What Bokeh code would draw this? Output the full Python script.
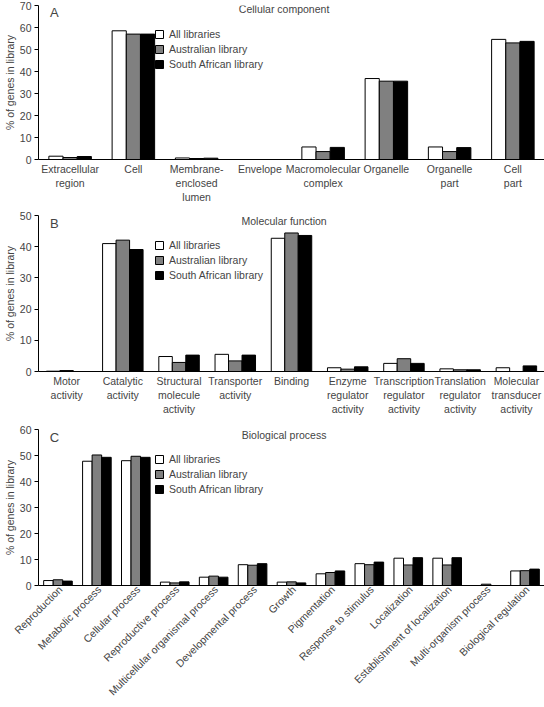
import math
from bokeh.plotting import figure
from bokeh.layouts import column
from bokeh.models import (Range1d, FixedTicker, SingleIntervalTicker, Legend,
                          LegendItem, Label, ColumnDataSource)
from bokeh.transform import dodge
from bokeh.embed import file_html
from bokeh.resources import INLINE

FONT = "Liberation Sans"
FS = "10.5px"

series_names = ["All libraries", "Australian library", "South African library"]
series_colors = ["#ffffff", "#808080", "#000000"]

# Panel A: Cellular component
cc_terms = ["Extracellular\nregion", "Cell", "Membrane-\nenclosed\nlumen", "Envelope",
            "Macromolecular\ncomplex", "Organelle", "Organelle\npart", "Cell\npart"]
cc_all = [1.5, 58.5, 0.7, 0.0, 5.7, 36.8, 5.7, 54.6]
cc_aus = [0.9, 57.0, 0.45, 0.0, 3.6, 35.6, 3.6, 53.0]
cc_sa = [1.35, 57.0, 0.6, 0.0, 5.5, 35.6, 5.4, 53.7]

# Panel B: Molecular function
mf_terms = ["Motor\nactivity", "Catalytic\nactivity", "Structural\nmolecule\nactivity",
            "Transporter\nactivity", "Binding", "Enzyme\nregulator\nactivity",
            "Transcription\nregulator\nactivity", "Translation\nregulator\nactivity",
            "Molecular\ntransducer\nactivity"]
mf_all = [0.1, 41.0, 4.8, 5.5, 42.7, 1.2, 2.6, 0.85, 1.2]
mf_aus = [0.3, 42.1, 2.9, 3.4, 44.4, 0.75, 4.1, 0.55, 0.0]
mf_sa = [0.0, 39.1, 5.25, 5.25, 43.6, 1.5, 2.6, 0.55, 1.8]

# Panel C: Biological process
bp_terms = ["Reproduction", "Metabolic process", "Cellular process", "Reproductive process",
            "Multicellular organismal process", "Developmental process", "Growth",
            "Pigmentation", "Response to stimulus", "Localization",
            "Establishment of localization", "Multi-organism process", "Biological regulation"]
bp_all = [1.9, 47.8, 48.0, 1.3, 3.2, 8.0, 1.3, 4.5, 8.4, 10.5, 10.5, 0.0, 5.6]
bp_aus = [2.2, 50.2, 49.7, 1.0, 3.6, 7.8, 1.4, 5.0, 8.0, 7.9, 7.9, 0.5, 5.7]
bp_sa = [1.7, 49.3, 49.3, 1.4, 3.2, 8.4, 1.0, 5.6, 9.0, 10.7, 10.7, 0.0, 6.3]

W = 544
LEFT = 33


def make_panel(terms, s_all, s_aus, s_sa, ymax, letter, title, height, top, bottom,
               bar_w, legend_y, goterm_dy, title_dy, letter_dy, rotate=False):
    n = len(terms)
    fw = W - LEFT
    fh = height - top - bottom
    xs = [i + 0.5 for i in range(n)]
    src = ColumnDataSource(dict(x=xs, a=s_all, b=s_aus, c=s_sa))
    p = figure(width=W, height=height, x_range=Range1d(0, n), y_range=Range1d(0, ymax),
               output_backend="svg", toolbar_location=None,
               min_border_left=LEFT, min_border_right=0,
               min_border_top=top, min_border_bottom=bottom)
    p.outline_line_color = None
    p.grid.visible = False
    rends = []
    for k, (col, color) in enumerate(zip(["a", "b", "c"], series_colors)):
        r = p.vbar(x=dodge("x", (k - 1) * bar_w), top=col, bottom=0, width=bar_w,
                   source=src, fill_color=color, line_color="black", line_width=1)
        rends.append(r)

    ya = p.yaxis[0]
    ya.ticker = SingleIntervalTicker(interval=10, num_minor_ticks=0)
    ya.axis_label = "% of genes in library"
    ya.axis_label_text_font = FONT
    ya.axis_label_text_font_size = FS
    ya.axis_label_text_font_style = "normal"
    ya.axis_label_standoff = 1
    ya.major_label_standoff = 3
    ya.major_tick_out = 4
    ya.major_tick_in = 0
    ya.minor_tick_line_color = None
    ya.major_label_text_font = FONT
    ya.major_label_text_font_size = FS
    ya.axis_line_color = "black"
    ya.major_tick_line_color = "black"

    xa = p.xaxis[0]
    xa.ticker = FixedTicker(ticks=xs)
    xa.major_label_overrides = {x: t for x, t in zip(xs, terms)}
    xa.major_tick_line_color = None
    xa.major_tick_out = 0
    xa.major_tick_in = 0
    xa.minor_tick_line_color = None
    xa.major_label_standoff = 3
    xa.major_label_text_font = FONT
    xa.major_label_text_font_size = FS
    xa.axis_line_color = "black"
    if rotate:
        s = 0.06
        p.extra_x_ranges = {"lab": Range1d(-s, n - s)}
        xa.x_range_name = "lab"
        xa.major_label_orientation = math.pi / 4
        xa.major_label_standoff = 2

    def dx(px):
        return (px - LEFT) / fw * n

    def dy(px_below_top):
        return ymax - px_below_top / fh * ymax

    p.add_layout(Label(x=dx(281), y=dy(title_dy), text=title, text_align="center",
                       text_baseline="middle", text_font=FONT, text_font_size=FS))
    p.add_layout(Label(x=dx(49), y=dy(letter_dy), text=letter, text_align="center",
                       text_baseline="middle", text_font=FONT, text_font_size="13px"))
    p.add_layout(Label(x=dx(281), y=dy(fh + goterm_dy), text="GO term", text_align="center",
                       text_baseline="middle", text_font=FONT, text_font_size=FS))

    legend = Legend(items=[LegendItem(label=nm, renderers=[r]) for nm, r in zip(series_names, rends)],
                    location=(116, legend_y), orientation="vertical", padding=0, margin=0,
                    spacing=0, glyph_width=10, glyph_height=10, label_height=15,
                    label_standoff=5, border_line_color=None, background_fill_alpha=0,
                    label_text_font=FONT, label_text_font_size=FS)
    p.add_layout(legend)
    return p


pA = make_panel(cc_terms, cc_all, cc_aus, cc_sa, 70, "A", "Cellular component",
                206, 5, 47, 0.224, 88, 39, 3.5, 7)
pB = make_panel(mf_terms, mf_all, mf_aus, mf_sa, 50, "B", "Molecular function",
                216, 9, 51, 0.24, 89, 44, 5, 8.3)
pC = make_panel(bp_terms, bp_all, bp_aus, bp_sa, 60, "C", "Biological process",
                285, 7, 122, 0.245, 89, 117, 5.3, 8.3, rotate=True)

layout = column(pA, pB, pC)
open("out.html", "w").write(file_html(layout, INLINE))
